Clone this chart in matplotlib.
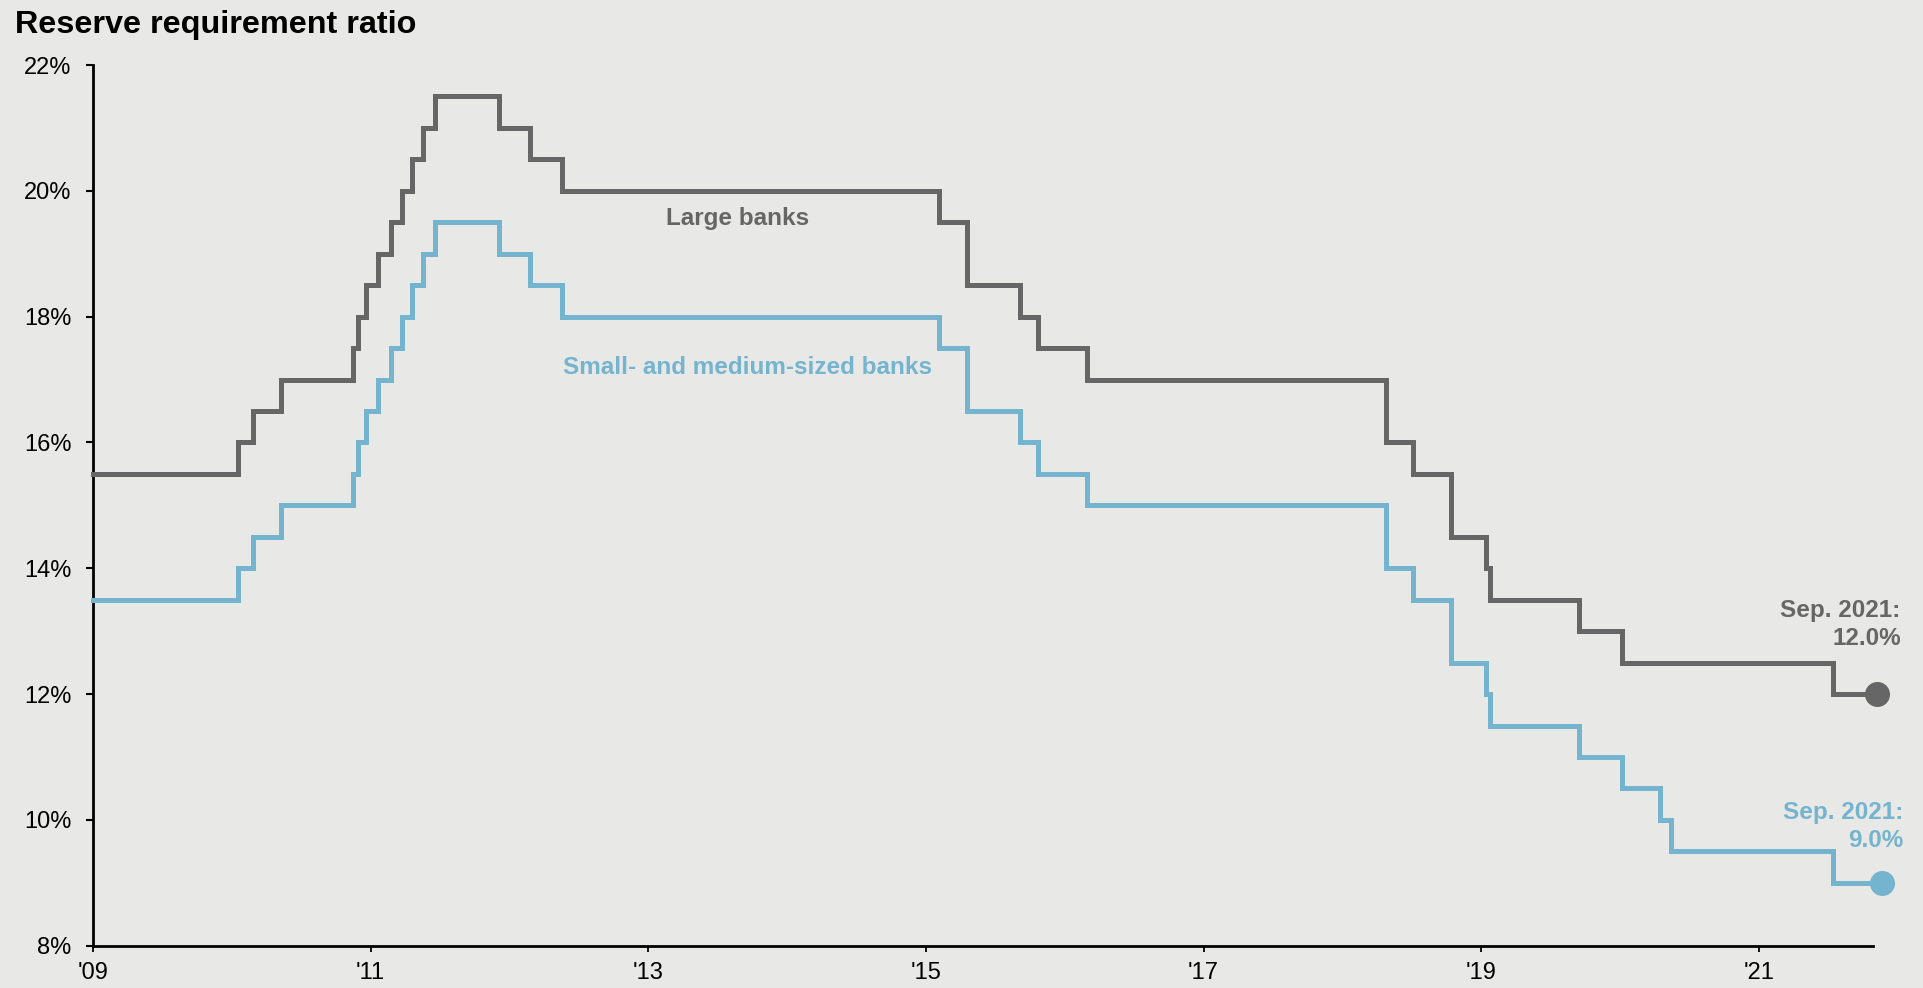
import matplotlib
matplotlib.use("Agg")
import matplotlib.pyplot as plt
import matplotlib.dates as mdates
import pandas as pd

# ---- data ----
large_dates = ['2009-01-01', '2010-01-18', '2010-02-25', '2010-05-10', '2010-11-16',
               '2010-11-29', '2010-12-20', '2011-01-20', '2011-02-24', '2011-03-25',
               '2011-04-21', '2011-05-18', '2011-06-20', '2011-12-05', '2012-02-24',
               '2012-05-18', '2015-02-05', '2015-04-20', '2015-09-06', '2015-10-24',
               '2016-03-01', '2018-04-25', '2018-07-05', '2018-10-15', '2019-01-15',
               '2019-01-25', '2019-09-16', '2020-01-06', '2021-07-15', '2021-11-08']
large_vals = [15.5, 16.0, 16.5, 17.0, 17.5,
              18.0, 18.5, 19.0, 19.5, 20.0,
              20.5, 21.0, 21.5, 21.0, 20.5,
              20.0, 19.5, 18.5, 18.0, 17.5,
              17.0, 16.0, 15.5, 14.5, 14.0,
              13.5, 13.0, 12.5, 12.0, 12.0]

small_dates = ['2009-01-01', '2010-01-18', '2010-02-25', '2010-05-10', '2010-11-16',
               '2010-11-29', '2010-12-20', '2011-01-20', '2011-02-24', '2011-03-25',
               '2011-04-21', '2011-05-18', '2011-06-20', '2011-12-05', '2012-02-24',
               '2012-05-18', '2015-02-05', '2015-04-20', '2015-09-06', '2015-10-24',
               '2016-03-01', '2018-04-25', '2018-07-05', '2018-10-15', '2019-01-15',
               '2019-01-25', '2019-09-16', '2020-01-06', '2020-04-15', '2020-05-15',
               '2021-07-15', '2021-11-21']
small_vals = [13.5, 14.0, 14.5, 15.0, 15.5,
              16.0, 16.5, 17.0, 17.5, 18.0,
              18.5, 19.0, 19.5, 19.0, 18.5,
              18.0, 17.5, 16.5, 16.0, 15.5,
              15.0, 14.0, 13.5, 12.5, 12.0,
              11.5, 11.0, 10.5, 10.0, 9.5,
              9.0, 9.0]

y_ticks = [8, 10, 12, 14, 16, 18, 20, 22]
x_tick_years = [2009, 2011, 2013, 2015, 2017, 2019, 2021]

title = "Reserve requirement ratio"
large_label = "Large banks"
small_label = "Small- and medium-sized banks"
large_end_label = "Sep. 2021:\n12.0%"
small_end_label = "Sep. 2021:\n9.0%"

# ---- style ----
GRAY = "#666666"
BLUE = "#74b4cf"
BG = "#e8e8e6"
FONT = ["Liberation Sans", "DejaVu Sans"]
plt.rcParams['font.family'] = FONT

W, H = 1923, 988
fig = plt.figure(figsize=(W / 100, H / 100), dpi=100, facecolor=BG)
ax = fig.add_axes([93.3 / W, 1 - 945.7 / H, (1872.7 - 93.3) / W, (945.7 - 65) / H])
ax.set_facecolor(BG)

ld = pd.to_datetime(large_dates)
sd = pd.to_datetime(small_dates)

ax.step(ld, large_vals, where='post', color=GRAY, lw=3.6, clip_on=False,
        solid_joinstyle='miter', zorder=3)
ax.step(sd, small_vals, where='post', color=BLUE, lw=3.6, clip_on=False,
        solid_joinstyle='miter', zorder=3)
ax.plot(ld[-1:], large_vals[-1:], 'o', color=GRAY, ms=17, clip_on=False, zorder=4)
ax.plot(sd[-1:], small_vals[-1:], 'o', color=BLUE, ms=17, clip_on=False, zorder=4)

ax.set_ylim(8, 22)
ax.set_xlim(pd.Timestamp('2009-01-01'), pd.Timestamp('2021-10-28'))
ax.set_yticks(y_ticks)
ax.set_yticklabels([f"{v}%" for v in y_ticks])
ax.set_xticks([pd.Timestamp(f"{y}-01-01") for y in x_tick_years])
ax.xaxis.set_major_formatter(mdates.DateFormatter("'%y"))

for s in ['top', 'right']:
    ax.spines[s].set_visible(False)
for s in ['left', 'bottom']:
    ax.spines[s].set_linewidth(2)
    ax.spines[s].set_color('black')
ax.tick_params(axis='y', direction='out', length=4.8, width=1.5, pad=11,
               labelsize=17, colors='black')
ax.tick_params(axis='x', direction='out', length=4.5, width=1.3, pad=7,
               labelsize=17, colors='black')

# ---- text ----
fig.text(15 / W, 1 - 33 / H, title, fontsize=23.3, fontweight='bold',
         color='black', va='baseline', ha='left')

ax.text(pd.Timestamp('2013-08-24'), 19.457, large_label, color=GRAY, fontsize=17.5,
        fontweight='bold', ha='center', va='baseline')
ax.text(pd.Timestamp('2013-09-19'), 17.084, small_label, color=BLUE, fontsize=17.5,
        fontweight='bold', ha='center', va='baseline')

# va='baseline' on multi-line text aligns the last line's baseline
ax.text(pd.Timestamp('2022-01-10'), 12.78, large_end_label, color=GRAY, fontsize=17.5,
        fontweight='bold', ha='right', va='baseline', linespacing=1.28, clip_on=False)
ax.text(pd.Timestamp('2022-01-18'), 9.564, small_end_label, color=BLUE, fontsize=17.5,
        fontweight='bold', ha='right', va='baseline', linespacing=1.28, clip_on=False)

fig.savefig("out.png", dpi=100, facecolor=BG)
